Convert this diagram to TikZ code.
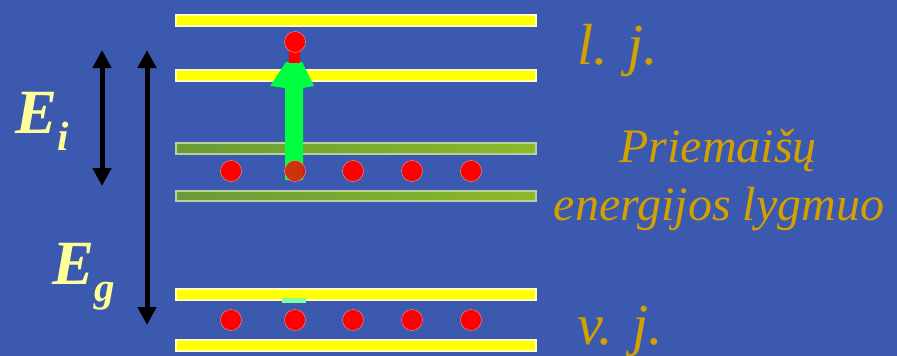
\documentclass[tikz,border=0pt]{standalone}
\usepackage{fontspec}
\setmainfont{Liberation Serif}
\definecolor{slideblue}{RGB}{59,89,174}
\definecolor{bandyellow}{RGB}{255,255,0}
\definecolor{edgeyellow}{RGB}{255,255,185}
\definecolor{bandgreen}{RGB}{104,156,52}
\definecolor{bandlime}{RGB}{140,186,40}
\definecolor{edgegreen}{RGB}{185,205,160}
\definecolor{dotred}{RGB}{255,0,0}
\definecolor{dotpink}{RGB}{255,150,150}
\definecolor{arrowgreen}{RGB}{0,255,64}
\definecolor{paleyellow}{RGB}{255,255,153}
\definecolor{gold}{RGB}{212,160,0}
\usetikzlibrary{arrows.meta}

\begin{document}
\begin{tikzpicture}[x=1pt,y=-1pt]
  % Coordinates
  \coordinate (A) at (0,0);
  \coordinate (B) at (897,356);
  \coordinate (C) at (102,50);
  \coordinate (D) at (102,186);
  \coordinate (E) at (147,50);
  \coordinate (F) at (147,325);
  \coordinate (G) at (295,42);
  \coordinate (H) at (295,171);

  % Drawing
  \useasboundingbox (A) rectangle (B);
  \fill[slideblue] (A) rectangle (B);
  \filldraw[edgeyellow, fill=bandyellow, line width=1.5] (176,15) rectangle (536,26);
  \filldraw[edgeyellow, fill=bandyellow, line width=1.5] (176,70) rectangle (536,81);
  \filldraw[edgeyellow, fill=bandyellow, line width=1.5] (176,289) rectangle (536,300);
  \filldraw[edgeyellow, fill=bandyellow, line width=1.5] (176,340) rectangle (536,351);
  \shadedraw[edgegreen, left color=bandgreen, right color=bandlime, line width=1.5] (176,143) rectangle (536,154);
  \shadedraw[edgegreen, left color=bandgreen, right color=bandlime, line width=1.5] (176,191) rectangle (536,201);
  \fill[arrowgreen!50!white] (282,298) rectangle (306,303);
  \fill[arrowgreen] (285,180) -- (285,88) -- (270,86) -- (286,62) -- (302,62) -- (314,86) -- (303,88) -- (303,180) -- cycle;
  \fill[dotred] (289,46) rectangle (300,63);
  \filldraw[dotpink, fill=dotred] (G) circle (10.5);
  \filldraw[dotpink, fill=dotred] (231,171) circle (10.5);
  \filldraw[dotpink, fill=dotred, fill opacity=0.8] (H) circle (10.5);
  \filldraw[dotpink, fill=dotred] (353,171) circle (10.5);
  \filldraw[dotpink, fill=dotred] (412,171) circle (10.5);
  \filldraw[dotpink, fill=dotred] (471,171) circle (10.5);
  \filldraw[dotpink, fill=dotred] (231,320) circle (10.5);
  \filldraw[dotpink, fill=dotred] (295,320) circle (10.5);
  \filldraw[dotpink, fill=dotred] (353,320) circle (10.5);
  \filldraw[dotpink, fill=dotred] (412,320) circle (10.5);
  \filldraw[dotpink, fill=dotred] (471,320) circle (10.5);
  \draw[line width=5pt, {Triangle[width=18pt,length=18pt]}-{Triangle[width=18pt,length=18pt]}] (C) -- (D);
  \draw[line width=5pt, {Triangle[width=18pt,length=18pt]}-{Triangle[width=18pt,length=18pt]}] (E) -- (F);

  % Labels
  \node[anchor=base west, inner sep=0, text=paleyellow, font=\fontsize{63}{63}\selectfont\bfseries\itshape] (Ei) at (15,133) {E\raisebox{-17pt}{\fontsize{41}{41}\selectfont i}};
  \node[anchor=base west, inner sep=0, text=paleyellow, font=\fontsize{63}{63}\selectfont\bfseries\itshape] (Eg) at (52,284) {E\raisebox{-17pt}{\fontsize{41}{41}\selectfont g}};
  \node[anchor=base west, inner sep=0, text=gold, font=\fontsize{58}{58}\selectfont\itshape] (lj) at (577,64) {l. j.};
  \node[anchor=base west, inner sep=0, text=gold, font=\fontsize{58}{58}\selectfont\itshape] (vj) at (577,344) {v. j.};
  \node[anchor=base, inner sep=0, text=gold, font=\fontsize{48}{48}\selectfont\itshape] (pr) at (718,162) {Priemaišų};
  \node[anchor=base, inner sep=0, text=gold, font=\fontsize{48}{48}\selectfont\itshape] (en) at (719,220) {energijos lygmuo};
\end{tikzpicture}
\end{document}
